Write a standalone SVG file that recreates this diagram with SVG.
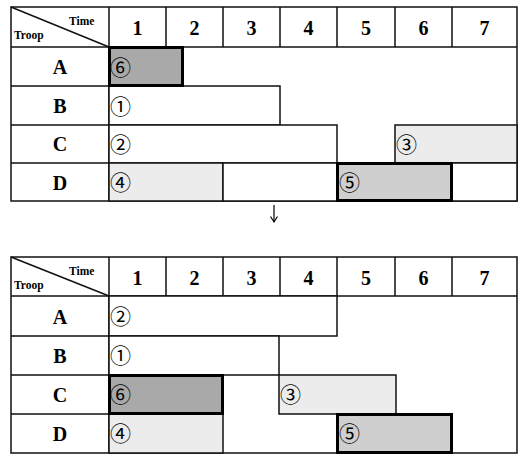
<svg xmlns="http://www.w3.org/2000/svg" width="521" height="454" viewBox="0 0 521 454">
<defs>
<style>
.g{stroke:#111;stroke-width:1.5;fill:none}
.b{stroke:#111;stroke-width:1.5;fill:#fff}
.lt{stroke:#111;stroke-width:1.5;fill:#ececec}
.dk{stroke:#000;stroke-width:3;fill:#a9a9a9}
.md{stroke:#000;stroke-width:3;fill:#cfcfcf}
.hd{font-family:"Liberation Serif",serif;font-weight:bold;font-size:20px;fill:#000;text-anchor:middle}
.sm{font-family:"Liberation Serif",serif;font-weight:bold;font-size:11.5px;fill:#000}
.c{font-family:"Noto Sans CJK SC","DejaVu Sans",sans-serif;font-size:21px;fill:#000}
</style>
<marker id="ah" markerWidth="8" markerHeight="8" refX="6" refY="4" orient="auto" markerUnits="userSpaceOnUse">
<path d="M0.5,0.5 L6,4 L0.5,7.5" fill="none" stroke="#000" stroke-width="1.2"/>
</marker>
</defs>

<g id="table-before">
<g id="t1-grid">
<rect class="g" x="11" y="7" width="506" height="194"/>
<line class="g" x1="11" y1="47" x2="517" y2="47"/>
<line class="g" x1="11" y1="7" x2="109" y2="47"/>
<path class="g" d="M109,7V201 M166,7V47 M223,7V47 M280,7V47 M337,7V47 M395,7V47 M452,7V47 M11,86H109 M11,125H109 M11,163H109"/>
<text class="sm" x="69" y="25">Time</text>
<text class="sm" x="14" y="39">Troop</text>
<text class="hd" x="137.5" y="35">1</text>
<text class="hd" x="194.5" y="35">2</text>
<text class="hd" x="251.5" y="35">3</text>
<text class="hd" x="308.5" y="35">4</text>
<text class="hd" x="366" y="35">5</text>
<text class="hd" x="423.5" y="35">6</text>
<text class="hd" x="484.5" y="35">7</text>
<text class="hd" x="60" y="74">A</text>
<text class="hd" x="60" y="113">B</text>
<text class="hd" x="60" y="151">C</text>
<text class="hd" x="60" y="190">D</text>
</g>
<g id="t1-task1"><rect class="b" x="109" y="86" width="171" height="39"/><text class="c" x="110" y="114">①</text></g>
<g id="t1-task2"><rect class="b" x="109" y="125" width="228" height="38"/><text class="c" x="110" y="152">②</text></g>
<g id="t1-task3"><rect class="lt" x="395" y="125" width="122" height="38"/><text class="c" x="396" y="152">③</text></g>
<g id="t1-task4"><rect class="lt" x="109" y="163" width="114" height="38"/><text class="c" x="110" y="190">④</text></g>
<g id="t1-gapD"><rect class="b" x="223" y="163" width="114" height="38"/><rect class="b" x="452" y="163" width="65" height="38"/></g>
<g id="t1-task5"><rect class="md" x="337.5" y="163.5" width="114" height="37"/><text class="c" x="339" y="190">⑤</text></g>
<g id="t1-task6"><rect class="dk" x="109.5" y="47.5" width="73" height="38"/><text class="c" x="110" y="75">⑥</text></g>
</g>

<g id="connectors">
<line x1="274" y1="205" x2="274" y2="222" stroke="#000" stroke-width="1.2" marker-end="url(#ah)"/>
</g>

<g id="table-after">
<g id="t2-grid">
<rect class="g" x="11" y="257" width="506" height="196"/>
<line class="g" x1="11" y1="296" x2="517" y2="296"/>
<line class="g" x1="11" y1="257" x2="109" y2="296"/>
<path class="g" d="M109,257V453 M166,257V296 M223,257V296 M280,257V296 M337,257V296 M395,257V296 M452,257V296 M11,336H109 M11,375H109 M11,414H109"/>
<text class="sm" x="69" y="275">Time</text>
<text class="sm" x="14" y="289">Troop</text>
<text class="hd" x="137.5" y="285">1</text>
<text class="hd" x="194.5" y="285">2</text>
<text class="hd" x="251.5" y="285">3</text>
<text class="hd" x="308.5" y="285">4</text>
<text class="hd" x="366" y="285">5</text>
<text class="hd" x="423.5" y="285">6</text>
<text class="hd" x="484.5" y="285">7</text>
<text class="hd" x="60" y="324">A</text>
<text class="hd" x="60" y="363">B</text>
<text class="hd" x="60" y="402">C</text>
<text class="hd" x="60" y="441">D</text>
</g>
<g id="t2-task2"><rect class="b" x="109" y="296" width="228" height="40"/><text class="c" x="110" y="324">②</text></g>
<g id="t2-task1"><rect class="b" x="109" y="336" width="170" height="39"/><text class="c" x="110" y="363">①</text></g>
<g id="t2-task3"><rect class="lt" x="279" y="375" width="117" height="39"/><text class="c" x="280" y="402">③</text></g>
<g id="t2-task4"><rect class="lt" x="109" y="414" width="114" height="39"/><text class="c" x="110" y="441">④</text></g>
<g id="t2-task6"><rect class="dk" x="109.5" y="375.5" width="113" height="38"/><text class="c" x="110" y="402">⑥</text></g>
<g id="t2-task5"><rect class="md" x="337.5" y="414.5" width="114" height="38"/><text class="c" x="339" y="441">⑤</text></g>
</g>
</svg>
